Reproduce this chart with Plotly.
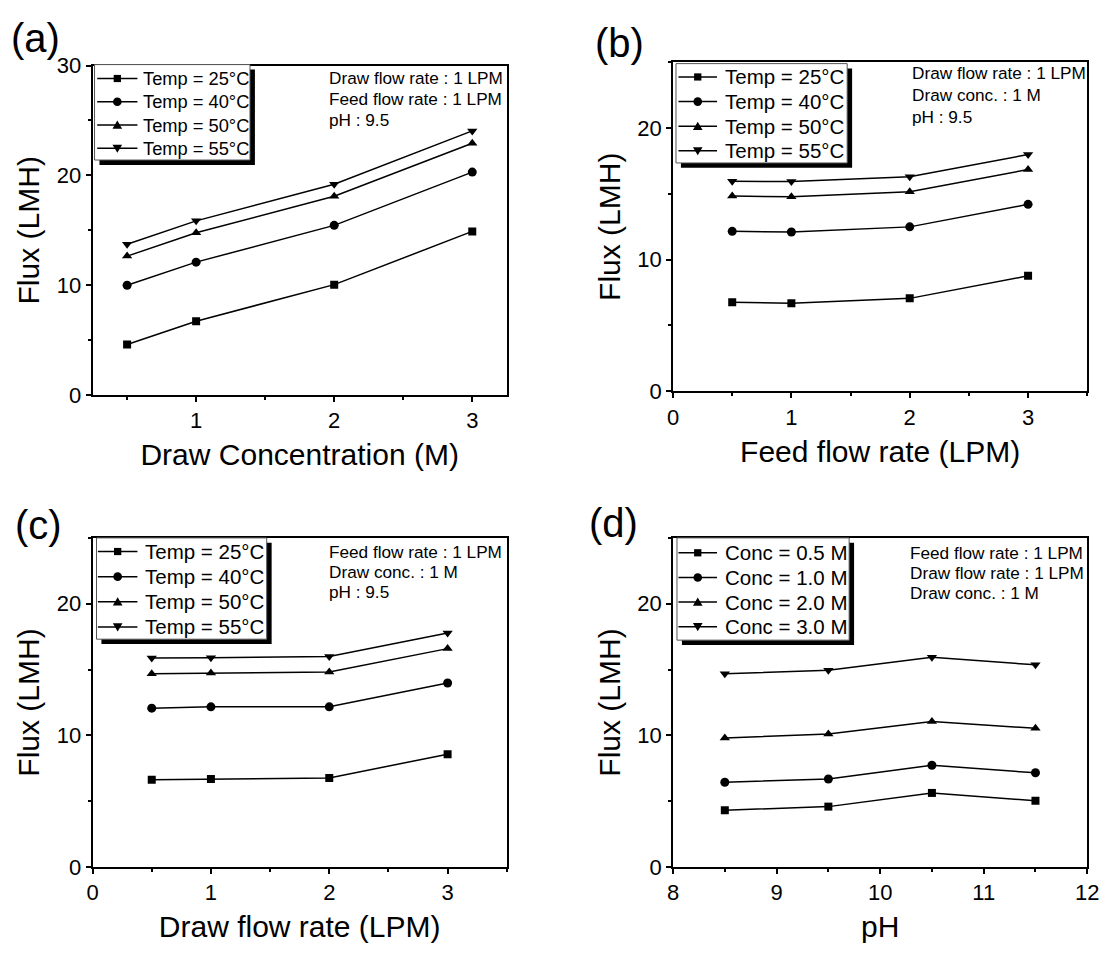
import plotly.graph_objects as go

W, H = 1114, 957

# ---------------- data ----------------
temps = ["Temp = 25°C", "Temp = 40°C", "Temp = 50°C", "Temp = 55°C"]
concs = ["Conc = 0.5 M", "Conc = 1.0 M", "Conc = 2.0 M", "Conc = 3.0 M"]

x_a = [0.5, 1, 2, 3]
flux_a_25 = [4.6, 6.72, 10.05, 14.9]
flux_a_40 = [10.0, 12.1, 15.45, 20.3]
flux_a_50 = [12.65, 14.77, 18.1, 22.93]
flux_a_55 = [13.73, 15.86, 19.19, 24.05]

x_b = [0.5, 1, 2, 3]
flux_b_25 = [6.77, 6.69, 7.06, 8.77]
flux_b_40 = [12.15, 12.1, 12.49, 14.2]
flux_b_50 = [14.84, 14.77, 15.16, 16.84]
flux_b_55 = [15.95, 15.93, 16.3, 17.98]

x_c = [0.5, 1, 2, 3]
flux_c_25 = [6.64, 6.69, 6.77, 8.57]
flux_c_40 = [12.07, 12.17, 12.17, 13.98]
flux_c_50 = [14.69, 14.74, 14.81, 16.59]
flux_c_55 = [15.88, 15.9, 16.0, 17.78]

x_d = [8.5, 9.5, 10.5, 11.5]
flux_d_05 = [4.32, 4.59, 5.63, 5.04]
flux_d_10 = [6.44, 6.69, 7.73, 7.16]
flux_d_20 = [9.8, 10.1, 11.06, 10.54]
flux_d_30 = [14.69, 14.94, 15.93, 15.36]

info_a = ["Draw flow rate : 1 LPM", "Feed flow rate : 1 LPM", "pH : 9.5"]
info_b = ["Draw flow rate : 1 LPM", "Draw conc. : 1 M", "pH : 9.5"]
info_c = ["Feed flow rate : 1 LPM", "Draw conc. : 1 M", "pH : 9.5"]
info_d = ["Feed flow rate : 1 LPM", "Draw flow rate : 1 LPM", "Draw conc. : 1 M"]

symbols = ["square", "circle", "triangle-up", "triangle-down"]
msizes = [8, 9, 9, 9]

FONT = "Liberation Sans, Arial, sans-serif"


def px(x):
    return x / W


def py(y):
    return 1 - y / H


fig = go.Figure()

panels = [
    dict(xa="x", ya="y", xs=x_a, ys=[flux_a_25, flux_a_40, flux_a_50, flux_a_55], names=temps,
         info=info_a, info_pos=(326, 68, 21.5),
         leg=dict(box=(90, 54, 248, 152), y0=68.3, dy=23.9, line=(92.7, 133.6), tx=137, fs=18.3),
         label=("(a)", 30, 27)),
    dict(xa="x2", ya="y2", xs=x_b, ys=[flux_b_25, flux_b_40, flux_b_50, flux_b_55], names=temps,
         info=info_b, info_pos=(919, 63, 22.5),
         leg=dict(box=(681, 53, 855, 155), y0=66.7, dy=25.3, line=(683.5, 722.7), tx=729, fs=20.5),
         label=("(b)", 624, 32)),
    dict(xa="x3", ya="y3", xs=x_c, ys=[flux_c_25, flux_c_40, flux_c_50, flux_c_55], names=temps,
         info=info_c, info_pos=(326, 554, 21),
         leg=dict(box=(92, 540, 265, 644), y0=554, dy=25.8, line=(93.4, 133.6), tx=139, fs=20.5),
         label=("(c)", 33, 527)),
    dict(xa="x4", ya="y4", xs=x_d, ys=[flux_d_05, flux_d_10, flux_d_20, flux_d_30], names=concs,
         info=info_d, info_pos=(917, 555, 21),
         leg=dict(box=(682, 540, 857, 645), y0=555.3, dy=25.3, line=(683.5, 722.7), tx=729, fs=20.5),
         label=("(d)", 617, 525)),
]

for p in panels:
    for i in range(4):
        fig.add_trace(go.Scatter(
            x=p["xs"], y=p["ys"][i], name=p["names"][i],
            xaxis=p["xa"], yaxis=p["ya"], showlegend=False,
            mode="lines+markers",
            line=dict(color="black", width=1.5),
            marker=dict(symbol=symbols[i], size=msizes[i], color="black"),
        ))


def xaxis(domain, rng, dtick, title, anchor):
    return dict(domain=domain, range=rng, dtick=dtick, tick0=0, anchor=anchor,
                showline=True, linewidth=2, linecolor="black", mirror=True,
                ticks="outside", ticklen=5, tickwidth=1.5, tickcolor="black",
                minor=dict(dtick=dtick / 2, ticks="outside", ticklen=3, tickwidth=1.5, tickcolor="black"),
                showgrid=False, zeroline=False,
                tickfont=dict(size=22, color="black", family=FONT),
                title=dict(text=title, font=dict(size=30, color="black", family=FONT), standoff=12))


def yaxis(domain, rng, title, anchor):
    return dict(domain=domain, range=rng, dtick=10, tick0=0, anchor=anchor,
                showline=True, linewidth=2, linecolor="black", mirror=True,
                ticks="outside", ticklen=5, tickwidth=1.5, tickcolor="black",
                minor=dict(dtick=5, ticks="outside", ticklen=3, tickwidth=1.5, tickcolor="black"),
                showgrid=False, zeroline=False,
                tickfont=dict(size=22, color="black", family=FONT),
                title=dict(text=title, font=dict(size=30, color="black", family=FONT), standoff=8))


dxL = [px(88), px(509)]
dxR = [px(678), px(1099)]
dyA = [py(393.3), py(55)]
dyB = [py(389.5), py(51.5)]
dyB2 = [py(878), py(540)]

fig.update_layout(
    width=W, height=H,
    margin=dict(l=0, r=0, t=0, b=0),
    paper_bgcolor="white", plot_bgcolor="white",
    font=dict(family=FONT, color="black"),
    showlegend=False,
    xaxis=xaxis(dxL, [0.25, 3.25], 1, "Draw Concentration (M)", "y"),
    yaxis=yaxis(dyA, [0, 30], "Flux (LMH)", "x"),
    xaxis2=xaxis(dxR, [0, 3.5], 1, "Feed flow rate (LPM)", "y2"),
    yaxis2=yaxis(dyB, [0, 25], "Flux (LMH)", "x2"),
    xaxis3=xaxis(dxL, [0, 3.5], 1, "Draw flow rate (LPM)", "y3"),
    yaxis3=yaxis(dyB2, [0, 25], "Flux (LMH)", "x3"),
    xaxis4=xaxis(dxR, [8, 12], 1, "pH", "y4"),
    yaxis4=yaxis(dyB2, [0, 25], "Flux (LMH)", "x4"),
)


def marker_shape(kind, cx, cy):
    """legend key marker in pixel units, converted to paper coords"""
    base = dict(xref="paper", yref="paper", fillcolor="black",
                line=dict(width=0), layer="above")
    if kind == "square":
        h = 3.7
        return dict(type="rect", x0=px(cx - h), x1=px(cx + h), y0=py(cy + h), y1=py(cy - h), **base)
    if kind == "circle":
        r = 4.4
        return dict(type="circle", x0=px(cx - r), x1=px(cx + r), y0=py(cy + r), y1=py(cy - r), **base)
    if kind == "triangle-up":
        pts = [(cx - 4.9, cy + 3.8), (cx + 4.9, cy + 3.8), (cx, cy - 4.6)]
    else:
        pts = [(cx - 4.9, cy - 3.8), (cx + 4.9, cy - 3.8), (cx, cy + 4.6)]
    path = "M" + " L".join(f"{px(a):.6f},{py(b):.6f}" for a, b in pts) + " Z"
    return dict(type="path", path=path, **base)


shapes = []
ann = []
for p in panels:
    lg = p["leg"]
    x0, y0, x1, y1 = lg["box"]
    # shadow
    shapes.append(dict(type="rect", xref="paper", yref="paper",
                       x0=px(x0 + 5), x1=px(x1 + 5), y0=py(y1 + 5), y1=py(y0 + 5),
                       fillcolor="black", line=dict(width=0), layer="above"))
    # box
    shapes.append(dict(type="rect", xref="paper", yref="paper",
                       x0=px(x0), x1=px(x1), y0=py(y1), y1=py(y0),
                       fillcolor="white", line=dict(width=1, color="#555555"), layer="above"))
    la, lb = lg["line"]
    for i, name in enumerate(p["names"]):
        yy = lg["y0"] + i * lg["dy"]
        shapes.append(dict(type="line", xref="paper", yref="paper",
                           x0=px(la), x1=px(lb), y0=py(yy), y1=py(yy),
                           line=dict(color="black", width=1.5), layer="above"))
        shapes.append(marker_shape(symbols[i], (la + lb) / 2, yy))
        ann.append(dict(text=name, x=px(lg["tx"]), y=py(yy), xref="paper", yref="paper",
                        xanchor="left", yanchor="middle", showarrow=False,
                        font=dict(size=lg["fs"], color="black", family=FONT)))
    # info text, one line each
    ix, iy, idy = p["info_pos"]
    for j, line in enumerate(p["info"]):
        ann.append(dict(text=line, x=px(ix), y=py(iy + j * idy), xref="paper", yref="paper",
                        xanchor="left", yanchor="middle", showarrow=False,
                        font=dict(size=17.2, color="black", family=FONT)))
    t, lx, ly = p["label"]
    ann.append(dict(text=t, x=px(lx), y=py(ly), xref="paper", yref="paper",
                    xanchor="center", yanchor="middle", showarrow=False,
                    font=dict(size=40, color="black", family=FONT)))

fig.update_layout(shapes=shapes, annotations=ann)

fig.write_html("out.html")
